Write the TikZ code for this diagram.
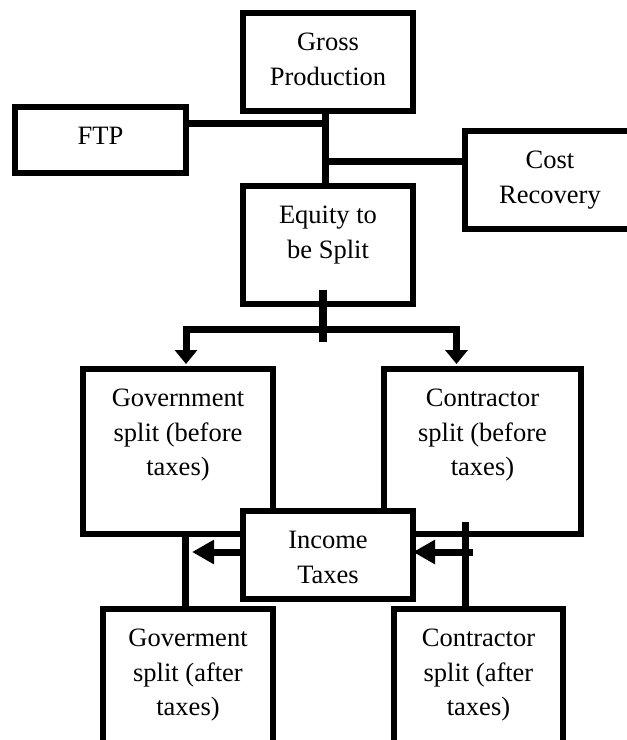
\documentclass[tikz,border=0pt]{standalone}
\usepackage{fontspec}
\setmainfont{Liberation Serif}
\usetikzlibrary{arrows.meta,calc}
\begin{document}
\begin{tikzpicture}[x=1pt,y=-1pt,
  box/.style={draw, line width=6pt, inner sep=0pt, fill=white},
  txt/.style={font=\fontsize{26.5}{34.5}\selectfont, align=center, anchor=north, inner sep=0pt},
  conn/.style={line width=7pt},
  tipdown/.style={-{Triangle[length=14pt,width=22pt]}},
  tipleft/.style={-{Triangle[length=22pt,width=23pt]}}]
\clip (0,0) rectangle (627,740);
\fill[white] (0,0) rectangle (627,740);
% boxes
\node[box, minimum width=170pt, minimum height=98pt] (gp) at (328,62) {};
\node[txt] (gpt) at (328,33) {Gross\\Production};
\node[box, minimum width=171pt, minimum height=66pt] (ftp) at (100.5,140) {};
\node[txt] (ftpt) at (100.5,127) {FTP};
\node[box, minimum width=170pt, minimum height=98pt] (cr) at (550,180) {};
\node[txt] (crt) at (550,151) {Cost\\Recovery};
\node[box, minimum width=170pt, minimum height=118pt] (eq) at (328,245) {};
\node[txt] (eqt) at (328,206) {Equity to\\be Split};
\node[box, minimum width=190pt, minimum height=165pt] (gov) at (178,451.5) {};
\node[txt] (govt) at (178,389) {Government\\split (before\\taxes)};
\node[box, minimum width=197pt, minimum height=165pt] (con) at (482.5,451.5) {};
\node[txt] (cont) at (482.5,389) {Contractor\\split (before\\taxes)};
\node[box, minimum width=170pt, minimum height=168pt] (gova) at (188,693) {};
\node[txt] (govat) at (188,629) {Goverment\\split (after\\taxes)};
\node[box, minimum width=169pt, minimum height=168pt] (cona) at (478.5,693) {};
\node[txt] (conat) at (478.5,629) {Contractor\\split (after\\taxes)};
% top connectors
\coordinate (j1) at (325,123);
\coordinate (j2) at (325,161);
\draw[conn] ([xshift=-3pt]gp.south) -- ([xshift=-3pt]eq.north);
\draw[conn] (ftp.east |- j1) -- (j1);
\draw[conn] (j2) -- (cr.west |- j2);
% split
\coordinate (s1) at (323,290);
\coordinate (s2) at (323,342);
\coordinate (sp) at (323,329);
\draw[conn, line width=8pt] (s1) -- (s2);
\draw[conn, tipdown] (sp) -| ([xshift=8pt,yshift=2pt]gov.north);
\draw[conn, tipdown] (sp) -| ([xshift=-26pt,yshift=2pt]con.north);
% lower connectors
\draw[conn] ([xshift=7pt]gov.south) -- ([xshift=7pt]gov.south |- gova.north);
\coordinate (rv) at (465,522);
\draw[conn] (rv) -- (rv |- cona.north);
% income taxes
\node[box, minimum width=170pt, minimum height=88pt] (tax) at (328,555) {};
\node[txt] (taxt) at (328,531) {Income\\Taxes};
\coordinate (lt) at (192,552);
\coordinate (rt) at (473,552);
\draw[conn, tipleft] (tax.west |- lt) -- (lt);
\draw[conn, tipleft] (rt) -- ([xshift=-3pt]tax.east |- rt);
\end{tikzpicture}
\end{document}
